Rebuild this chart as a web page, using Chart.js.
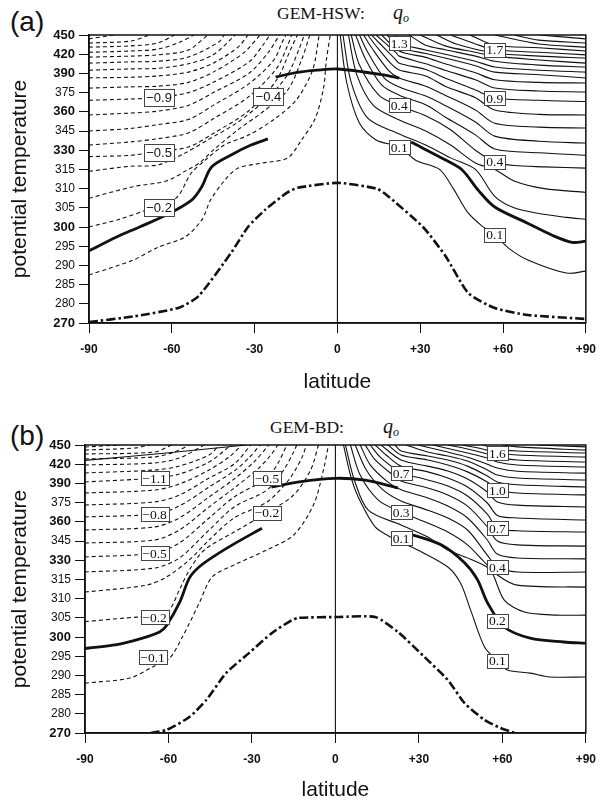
<!DOCTYPE html>
<html>
<head>
<meta charset="utf-8">
<script src="https://cdn.jsdelivr.net/npm/chart.js@4.4.1/dist/chart.umd.min.js"></script>
<style>
  html, body { margin: 0; padding: 0; background: #fff; }
  body { width: 605px; height: 803px; position: relative; overflow: hidden; color: #111;
         font-family: "Liberation Sans", Arial, sans-serif; }
  canvas { position: absolute; left: 0; }
  #ca { top: 0; }
  #cb { top: 400px; }
  .panel { position: absolute; left: 10px; font-size: 28px; line-height: 28px; }
  .title { position: absolute; font-family: "Liberation Serif", "Times New Roman", serif;
           font-size: 17.5px; line-height: 18px; white-space: nowrap; }
  .q { position: absolute; font-family: "Liberation Serif", "Times New Roman", serif;
       font-style: italic; font-size: 20px; line-height: 20px; }
  .q span { font-size: 12px; position: relative; top: 3px; }
</style>
</head>
<body>
<div class="panel" style="top:8px">(a)</div>
<div class="title" style="left:277px; top:4px">GEM-HSW:</div>
<div class="q" style="left:393px; top:2px">q<span>o</span></div>
<canvas id="ca" width="605" height="400"></canvas>

<div class="panel" style="top:422px">(b)</div>
<div class="title" style="left:270px; top:418px">GEM-BD:</div>
<div class="q" style="left:383px; top:416px">q<span>o</span></div>
<canvas id="cb" width="605" height="403"></canvas>

<script>
// axis ticks: potential temperature levels are spaced evenly, not by value
const thetaTicks = [270, 280, 285, 290, 295, 300, 305, 310, 315, 330, 345, 360, 375, 390, 420, 450];
const boldTicks = [270, 300, 330, 360, 390, 420, 450];
const latTicks = [-90, -60, -30, 0, 30, 60, 90];

// ---- panel (a) GEM-HSW : [latitude, theta] ----
// dashed negative contours -0.1 .. -1.8
const hswNeg = [
  [[-90,287.5],[-74,291.4],[-65,294.7],[-55,297.5],[-49,302],[-46,307],[-41,312],[-36,316],[-27,320],[-18,324],[-13,338],[-8,355],[-5,379],[-4,411],[-2.6,450]],
  [[-90,300],[-79,302],[-69,304.5],[-58.5,307.5],[-53,314],[-48,322],[-41,334],[-32,342],[-23,354],[-15,369],[-9,395],[-6.6,450]],
  [[-90,307.5],[-74,310.5],[-62,312],[-54,315],[-50,320],[-45,330],[-36,346],[-27,360],[-18,377],[-13,411],[-10,450]],
  [[-90,314.5],[-75,317.5],[-65,318.5],[-55,328],[-47,338],[-36,352],[-25,371.5],[-18,389],[-14,427],[-12,450]],
  [[-90,325],[-75,326],[-65,329],[-54,332.5],[-45,343],[-32,361],[-22,385],[-17,427],[-14.5,450]],
  [[-90,334],[-75,336.5],[-65,339],[-54,343.5],[-45,354.5],[-32,372],[-22,398],[-18,434],[-16.6,450]],
  [[-90,345],[-75,347],[-65,350],[-54,354],[-45,365],[-32,382],[-23,411],[-20,439],[-18.6,450]],
  [[-90,357.5],[-75,359],[-65,360.5],[-54,365],[-45,375],[-32,390.5],[-25,423],[-21,450]],
  [[-90,369],[-75,370],[-65,371],[-54,375],[-45,383],[-32,408],[-27,434],[-24.5,450]],
  [[-90,378.5],[-75,379.5],[-65,380],[-54,383],[-45,392],[-34,422],[-28,450]],
  [[-90,386.5],[-75,387],[-65,388],[-54,392],[-45,406],[-36,431],[-32.4,450]],
  [[-90,395],[-75,397],[-65,398],[-54,405],[-45,419],[-37,450]],
  [[-90,406],[-75,408],[-65,409],[-54,415.5],[-43,439],[-41,450]],
  [[-90,415.5],[-75,417],[-65,419],[-54,426.5],[-47,450]],
  [[-90,423],[-75,425],[-65,428],[-57,439],[-52,450]],
  [[-90,431],[-75,433],[-65,437.5],[-59,450]],
  [[-90,437.5],[-75,440.5],[-68,450]],
  [[-90,444],[-81,450]]
];
// solid positive contours 0.1 .. 2.1
const hswPos = [
  [[1,450],[3.4,382.5],[8,351],[14,338],[22.4,332.5],[28.5,322],[37,315],[42,310],[47,304],[52,300.5],[57,298],[62,294.5],[69,291.4],[83,288],[90,288.5]],
  [[2,450],[5,383],[11,355],[22,343],[32,334],[41,324],[50,315],[57,308],[64,305],[73,303.5],[83,302.5],[90,302]],
  [[4,450],[7,389],[13,365],[22,354],[32,345],[41,334],[50,320],[57,315],[64,312],[75,310],[90,309]],
  [[5,450],[8,403],[15,373],[22,365],[32,357],[41,346],[50,330],[57,321],[64,318],[75,317],[90,316]],
  [[6.6,450],[10,414],[16,381],[22.4,373],[32,365.5],[39,356],[50,342],[57,331],[73,328],[90,326]],
  [[8,450],[11,423],[17,386.4],[22.4,379.4],[32,372.3],[39,365],[50,352],[57,341],[73,337],[90,335.6]],
  [[9.5,450],[12.4,430],[18.4,395.3],[22.4,386.4],[32,380],[39,373],[50,361.4],[57,351],[73,348],[90,347.3]],
  [[11,450],[13.8,434],[19.5,404.7],[22.4,395.3],[32,388],[39,380],[50,371],[57,361.4],[73,358],[90,357.5]],
  [[12.4,450],[15.2,437.5],[20.6,414],[22.4,406],[32,396],[39,386.4],[50,377],[57,370.8],[73,369],[90,368]],
  [[14,450],[21.3,422],[22.4,417],[32,405],[39,395],[50,385],[57,378.6],[73,376.3],[90,375.5]],
  [[16,450],[22.4,425],[32,415],[39,405],[50,391],[57,385],[73,383],[90,382.5]],
  [[18,450],[22.4,431],[32,421],[39,414],[50,402],[57,392],[73,389],[90,386.4]],
  [[21,450],[22.4,437.5],[32,426.6],[39,420],[50,409],[57,400],[73,395],[90,392]],
  [[26,450],[32,434],[39,427],[50,417],[57,409],[73,403],[90,400]],
  [[30,450],[39,433],[50,423],[57,417],[73,411],[90,406]],
  [[36,450],[43,436],[57,422],[73,417],[90,414]],
  [[41,450],[50,436],[57,427],[73,423],[90,419]],
  [[48,450],[57,434],[73,430],[90,425]],
  [[57,450],[73,436],[90,431]],
  [[64,450],[73,442],[90,437.5]],
  [[73,450],[90,444]]
];
const hswThick = [
  [[-90,293.8],[-80,297.4],[-71.7,300],[-62,303.1],[-52.8,307],[-49.2,310.4],[-45.6,316.9],[-38.5,326.3],[-31.3,334],[-25.2,338.8]],
  [[-22.4,387.2],[-14.5,391.5],[-7.3,395],[0,396.9],[9.5,392.2],[16,389],[22.4,386.4]],
  [[26.7,336.4],[39.2,322.3],[45.3,314.8],[51,309.6],[57,305.2],[68.9,301],[78,297.8],[85,296],[90,296.3]]
];
const hswSurface = [[-90,270.5],[-74,273.4],[-57.4,278],[-50.3,282],[-38.5,293.3],[-32.4,300],[-26.3,304.4],[-18.1,309],[-14.5,310.2],[0,311.5],[14.2,310],[17.9,308.3],[31,300],[39.2,292.4],[47.4,282.8],[57,277.8],[68.9,274.2],[90,272.1]];
const hswZero = [[0,270],[0,450]];
const hswLabels = [
  [-64.6,371,'−0.9'], [-25,372,'−0.4'], [-64.6,328.4,'−0.5'], [-64.6,305.2,'−0.2'],
  [22.4,437.5,'1.3'], [57,427,'1.7'], [22.4,365,'0.4'], [57,370.8,'0.9'],
  [22.4,332.5,'0.1'], [57,321,'0.4'], [57,298,'0.1']
];

// ---- panel (b) GEM-BD ----
const bdNeg = [
  [[-90,288],[-73.9,289.3],[-65.7,292.2],[-59.6,294.5],[-55,300],[-48.9,308.9],[-44.3,316.9],[-36.4,326.3],[-24.6,338],[-15,349.7],[-7.9,373.1],[-4.3,411],[-2.5,450]],
  [[-90,304],[-70.4,305.2],[-63.2,305],[-59.6,307],[-56.1,312.2],[-52.5,322.3],[-47.1,338],[-36.4,352],[-24.6,367],[-15,381],[-8.9,411],[-6.1,450]],
  [[-90,311.7],[-67.9,313.5],[-60.7,316.9],[-52.5,330.2],[-45.4,345.8],[-36.4,363],[-24.6,375.5],[-16.8,395.3],[-12.1,429.7],[-10.4,450]],
  [[-90,320.8],[-65,323.9],[-56.1,331.7],[-45.4,353.6],[-36.4,371.6],[-24.6,384.8],[-18.6,411],[-15,439],[-13.9,450]],
  [[-90,332.5],[-65,335.6],[-56.1,343.4],[-45.4,363],[-36.4,379.4],[-24.6,398.4],[-20.4,423.4],[-17.5,450]],
  [[-90,343.4],[-65,345.8],[-56.1,353.6],[-45.4,371.6],[-36.4,386.4],[-27.5,414],[-23.2,434.4],[-20.7,450]],
  [[-90,353.6],[-65,356],[-56.1,363],[-45.4,379.4],[-36.4,396.9],[-29.3,423.4],[-23.9,450]],
  [[-90,363.8],[-65,366.1],[-56.1,372.3],[-45.4,387.2],[-36.4,409.4],[-31.1,429.7],[-27.1,450]],
  [[-90,373.1],[-65,375.5],[-56.1,380.9],[-45.4,398.4],[-36.4,420.3],[-30.4,450]],
  [[-90,382.5],[-65,384.8],[-56.1,389.5],[-45.4,411],[-38.2,431.3],[-33.6,450]],
  [[-90,392.2],[-65,398.4],[-56.1,404.7],[-45.4,423.4],[-37.5,450]],
  [[-90,406.3],[-65,411],[-56.1,417.2],[-45.4,434.4],[-41.8,450]],
  [[-90,418.8],[-65,421.9],[-56.1,429.7],[-47.1,450]],
  [[-90,428.1],[-65,431.3],[-57.9,439],[-52.5,450]],
  [[-90,435.9],[-65,439],[-58.9,450]],
  [[-90,442.2],[-72.1,445.3],[-66.8,450]],
  [[-90,446.9],[-77.5,450]]
];
const bdPos = [
  [[2.9,450],[5.4,403],[8.2,379.4],[14.3,356],[20,348],[29.6,338],[40.4,324.7],[45,314],[48.6,307],[53.6,297.4],[58.2,293.8],[61.8,291.4],[70,290.6],[77,289.6],[90,289.6]],
  [[3.6,450],[6.8,395.3],[11.8,369.1],[23.6,357.5],[33.2,348.1],[40.4,338],[49.3,330.2],[55.7,322.3],[60.7,309.6],[67.9,306.5],[79.6,305.7],[90,305.7]],
  [[5.4,450],[8.9,403],[15.4,377],[23.6,367.6],[33.2,359],[40.4,352],[47.5,342],[52.9,330],[58.2,318.4],[65.4,313.5],[90,313]],
  [[7.1,450],[11.1,411],[17.1,385],[23.6,376.3],[33.2,369.1],[40.4,363],[47.5,353.6],[54.6,334],[58.2,324.7],[65.4,320.8],[90,320.8]],
  [[8.9,450],[12.5,419],[18.9,392],[23.6,385],[33.2,378.6],[40.4,372.3],[47.5,363],[54.6,345.8],[58.2,334.8],[65.4,331.7],[90,331]],
  [[10.7,450],[14.3,426.6],[20.7,403],[23.6,393.8],[33.2,386.4],[40.4,381],[47.5,372.3],[54.6,356],[58.2,345],[65.4,342],[90,341]],
  [[12.5,450],[16.1,431],[21.8,411],[23.6,406],[33.2,395.3],[40.4,388],[47.5,380.2],[54.6,366],[58.2,355],[65.4,353],[90,352]],
  [[14.3,450],[18.2,434.4],[23.6,417],[33.2,408],[40.4,398.4],[47.5,387.2],[54.6,374.7],[58.2,365],[65.4,363],[90,361.4]],
  [[16.4,450],[23.6,426.6],[33.2,417],[40.4,409.4],[47.5,397],[54.6,383.3],[58.2,375.5],[65.4,373],[90,371.6]],
  [[18.9,450],[23.6,434.4],[33.2,426.6],[40.4,418.8],[47.5,408],[54.6,392.2],[58.2,385],[65.4,382.5],[90,381]],
  [[21.4,450],[23.6,440.6],[33.2,432.8],[40.4,426.6],[47.5,417],[54.6,401.6],[58.2,392.2],[65.4,389],[90,387.2]],
  [[25.4,450],[33.2,439],[40.4,432.8],[47.5,425],[54.6,411],[58.2,403],[65.4,398.4],[90,395.3]],
  [[29.6,450],[40.4,439],[47.5,431],[54.6,420],[58.2,414],[65.4,409],[90,406]],
  [[35,450],[47.5,437.5],[54.6,429.7],[58.2,423.4],[65.4,418.8],[90,415.6]],
  [[40.4,450],[47.5,443.8],[54.6,436],[58.2,431],[65.4,426.6],[90,423.4]],
  [[45.7,450],[54.6,442],[58.2,437.5],[65.4,434.4],[90,431]],
  [[52.9,450],[58.2,444],[65.4,440.6],[90,437.5]],
  [[60,450],[65.4,447],[90,442]],
  [[72.5,450],[90,447]]
];
const bdThick = [
  [[-90,297],[-78.6,298],[-69.3,299.7],[-63.2,301.3],[-60.7,303],[-56,309],[-52.5,316],[-49,324.7],[-43,334],[-37,342],[-26.4,355]],
  [[-23,387],[-13,392.5],[0,398],[10.7,395],[22.5,386.5]],
  [[26,351],[38,342],[46.4,328],[51,315],[54.6,309],[60.7,302.6],[70,299.7],[82,298.7],[90,298.4]]
];
const bdSurface = [[-66.4,270],[-60.7,271.6],[-52.5,278.3],[-46.4,283.6],[-39.3,290.6],[-31.1,295.8],[-22.9,301],[-15.7,304.4],[-13.2,305],[1,305.2],[14.3,305.2],[22.5,301.3],[32,294.8],[40.4,288.8],[46.4,282.8],[53.6,276.8],[59.3,272.6],[64.6,270]];
const bdZero = [[0,270],[0,450]];
const bdExtra = [[-90,426],[-60.7,437.5],[-32,450]];
const bdLabels = [
  [-65,398.4,'−1.1'], [-24.6,398.4,'−0.5'], [-65,366,'−0.8'], [-24.6,367,'−0.2'],
  [-65,335.6,'−0.5'], [-65,305.2,'−0.2'], [-65.7,294.8,'−0.1'],
  [58.2,437.5,'1.6'], [23.6,406,'0.7'], [58.2,384.8,'1.0'], [23.6,367.6,'0.3'],
  [58.2,355,'0.7'], [23.6,347.3,'0.1'], [58.2,324.7,'0.4'], [58.2,304.2,'0.2'], [58.2,293.8,'0.1']
];

const ink = '#111';
const sans = '"Liberation Sans", Arial, sans-serif';
const serif = '"Liberation Serif", "Times New Roman", serif';

// theta -> position on the evenly spaced level axis
function thetaToLevel(th) {
  for (let i = 0; i < thetaTicks.length - 1; i++) {
    if (th <= thetaTicks[i + 1]) {
      return i + (th - thetaTicks[i]) / (thetaTicks[i + 1] - thetaTicks[i]);
    }
  }
  return thetaTicks.length - 1;
}

function line(points, style) {
  return Object.assign({
    data: points.map((p) => ({ x: p[0], y: thetaToLevel(p[1]) })),
    borderColor: ink,
    borderWidth: 1.1,
    pointRadius: 0,
    tension: 0.3,
    fill: false,
  }, style);
}

const dashed = { borderDash: [4, 3] };
const thick = { borderWidth: 2.8 };
const dashDot = { borderWidth: 2.6, borderDash: [9, 3, 2.5, 3], tension: 0.2 };

const framePlugin = {
  id: 'frame',
  afterDatasetsDraw(chart) {
    const { ctx, chartArea: a } = chart;
    ctx.save();
    ctx.strokeStyle = ink;
    ctx.lineWidth = 1.5;
    ctx.strokeRect(a.left, a.top, a.right - a.left, a.bottom - a.top);
    ctx.restore();
  },
};

function labelPlugin(list, sansNeg) {
  return {
    id: 'contourLabels',
    afterDatasetsDraw(chart) {
      const { ctx, scales: { x, y } } = chart;
      ctx.save();
      list.forEach(([lat, th, txt]) => {
        const px = x.getPixelForValue(lat);
        const py = y.getPixelForValue(thetaToLevel(th));
        const neg = txt.charAt(0) === '−';
        ctx.font = neg && sansNeg ? '13px ' + sans : '13.5px ' + serif;
        const w = Math.round(ctx.measureText(txt).width + 4);
        const h = neg && sansNeg ? 17 : 14;
        const bx = Math.round(px - w / 2) + 0.5;
        const by = Math.round(py - h / 2) + 0.5;
        ctx.fillStyle = '#fff';
        ctx.fillRect(bx, by, w, h);
        ctx.strokeStyle = '#444';
        ctx.lineWidth = 1;
        ctx.strokeRect(bx, by, w, h);
        ctx.fillStyle = ink;
        ctx.textAlign = 'center';
        ctx.textBaseline = 'middle';
        ctx.fillText(txt, px, py + 1);
      });
      ctx.restore();
    },
  };
}

function makePanel(id, p) {
  const datasets = [];
  p.neg.forEach((pts) => datasets.push(line(pts, dashed)));
  p.pos.forEach((pts) => datasets.push(line(pts, {})));
  if (p.extra) datasets.push(line(p.extra, {}));
  datasets.push(line(p.zero, {}));
  p.thick.forEach((pts) => datasets.push(line(pts, thick)));
  datasets.push(line(p.surface, dashDot));

  const axisGrid = { drawOnChartArea: false, drawTicks: true, tickLength: 10, color: ink, lineWidth: 1 };

  return new Chart(document.getElementById(id), {
    type: 'line',
    data: { datasets },
    options: {
      animation: false,
      responsive: false,
      devicePixelRatio: 1,
      layout: { padding: { top: p.top, right: p.right, left: 0, bottom: 0 } },
      plugins: { legend: { display: false }, tooltip: { enabled: false } },
      scales: {
        x: {
          type: 'linear',
          min: -90,
          max: 90,
          afterBuildTicks: (s) => { s.ticks = latTicks.map((v) => ({ value: v })); },
          afterFit: (s) => { s.height = p.xHeight; },
          ticks: {
            callback: (v) => (v > 0 ? '+' + v : String(v)),
            font: { family: sans, size: 12, weight: 'bold' },
            color: ink,
            padding: 9,
            maxRotation: 0,
            autoSkip: false,
          },
          grid: axisGrid,
          border: { display: true, color: ink, width: 1.5 },
          title: { display: true, text: 'latitude', color: ink,
                   font: { family: sans, size: 21 }, padding: { top: 0, bottom: p.titlePad } },
        },
        y: {
          type: 'linear',
          min: 0,
          max: thetaTicks.length - 1,
          afterBuildTicks: (s) => { s.ticks = thetaTicks.map((t, i) => ({ value: i })); },
          afterFit: (s) => { s.width = p.yWidth; },
          ticks: {
            callback: (v) => String(thetaTicks[v]),
            font: (c) => {
              const t = thetaTicks[c.tick ? c.tick.value : 0];
              return boldTicks.includes(t)
                ? { family: sans, size: 13, weight: 'bold' }
                : { family: sans, size: 12, weight: 'normal' };
            },
            color: ink,
            padding: 4,
            autoSkip: false,
          },
          grid: axisGrid,
          border: { display: true, color: ink, width: 1.5 },
          title: { display: true, text: 'potential temperature', color: ink,
                   font: { family: sans, size: 21 }, padding: { top: 8, bottom: 0 } },
        },
      },
    },
    plugins: [labelPlugin(p.labels, p.sansNeg), framePlugin],
  });
}

makePanel('ca', {
  neg: hswNeg, pos: hswPos, thick: hswThick, surface: hswSurface, zero: hswZero,
  labels: hswLabels, sansNeg: true,
  top: 35, right: 13, yWidth: 89, xHeight: 77, titlePad: 5,
});

makePanel('cb', {
  neg: bdNeg, pos: bdPos, thick: bdThick, surface: bdSurface, zero: bdZero, extra: bdExtra,
  labels: bdLabels, sansNeg: false,
  top: 45, right: 16, yWidth: 85, xHeight: 70, titlePad: 0,
});
</script>
</body>
</html>
